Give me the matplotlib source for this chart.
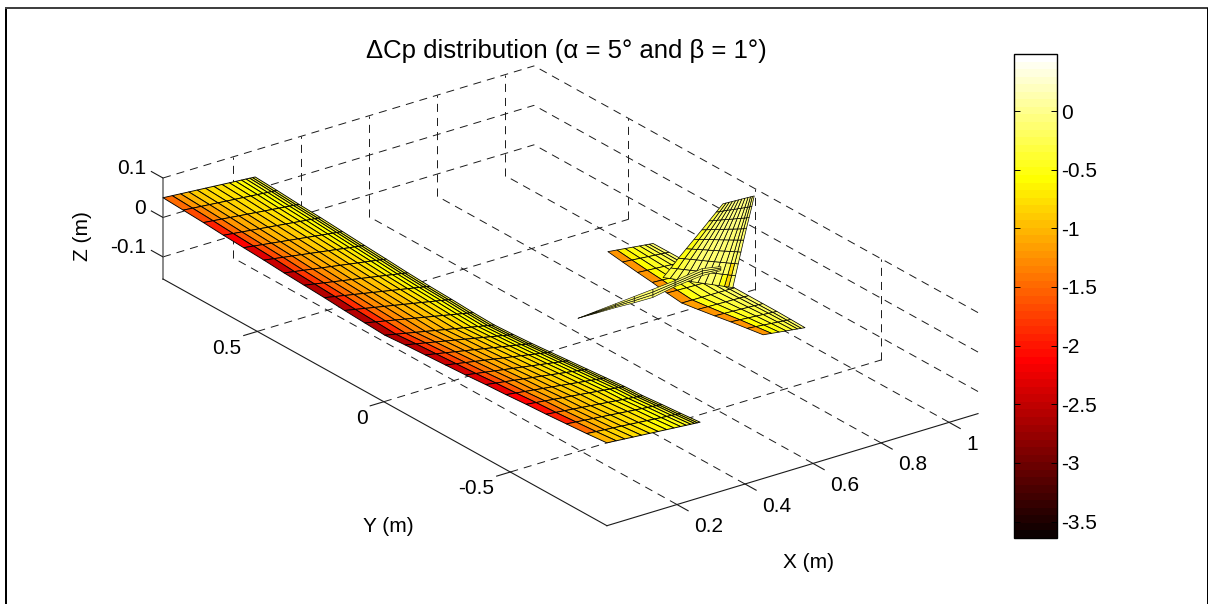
import numpy as np
import matplotlib
matplotlib.use('Agg')
import matplotlib.pyplot as plt
from matplotlib.cm import ScalarMappable
from matplotlib.colors import Normalize
from matplotlib.patches import Rectangle
from mpl_toolkits.mplot3d import proj3d

plt.rcParams['font.family'] = ['Liberation Sans', 'DejaVu Sans']
plt.rcParams['axes.unicode_minus'] = False

# axis limits and ticks
xlim = (-0.006, 1.085)
ylim = (-0.882, 0.873)
zlim = (-0.156, 0.1)
xticks = [0.2, 0.4, 0.6, 0.8, 1]
yticks = [0.5, 0, -0.5]
zticks = [0.1, 0, -0.1]
xticklabels = ['0.2', '0.4', '0.6', '0.8', '1']
yticklabels = ['0.5', '0', '-0.5']
zticklabels = ['0.1', '0', '-0.1']
cticks = [0, -0.5, -1, -1.5, -2, -2.5, -3, -3.5]
cticklabels = ['0', '-0.5', '-1', '-1.5', '-2', '-2.5', '-3', '-3.5']
clim = (-3.64, 0.486)

# wing
wing_y = [0.873, 0.793, 0.713, 0.634, 0.554, 0.474, 0.394, 0.315, 0.235, 0.155, 0.075, -0.004,
          -0.084, -0.164, -0.244, -0.323, -0.403, -0.483, -0.563, -0.642, -0.722, -0.802, -0.882]
wing_x_le = -0.006
wing_x_te = [0.265, 0.270, 0.275, 0.280, 0.285, 0.290, 0.294, 0.299, 0.304, 0.309, 0.313, 0.316,
             0.313, 0.308, 0.303, 0.298, 0.293, 0.288, 0.283, 0.278, 0.275, 0.271, 0.268]
wing_z_le = [0.050, 0.047, 0.044, 0.040, 0.037, 0.034, 0.030, 0.027, 0.024, 0.020, 0.017, 0.014,
             0.018, 0.021, 0.024, 0.027, 0.031, 0.034, 0.038, 0.041, 0.045, 0.049, 0.054]
wing_z_te = [0.032, 0.025, 0.017, 0.010, 0.002, -0.006, -0.013, -0.021, -0.028, -0.034, -0.040, -0.044,
             -0.039, -0.032, -0.024, -0.016, -0.008, 0.000, 0.008, 0.014, 0.021, 0.028, 0.035]
wing_chord = [0, 0.10, 0.19, 0.28, 0.37, 0.46, 0.55, 0.64, 0.72, 0.79, 0.85, 0.90, 0.94, 0.97, 1]
wing_cp = [
    [-1.45, -1.65, -1.95, -2.1, -2.3, -2.45, -2.5, -2.55, -2.6, -2.6, -2.6, -2.55, -2.5, -2.45, -2.4, -2.3, -2.25, -2.15, -2.05, -1.9, -1.45, -1.0],
    [-1.2, -1.35, -1.5, -1.6, -1.7, -1.75, -1.8, -1.8, -1.85, -1.85, -1.85, -1.8, -1.8, -1.75, -1.7, -1.65, -1.6, -1.55, -1.45, -1.35, -1.15, -0.9],
    [-1.0, -1.15, -1.25, -1.3, -1.4, -1.45, -1.5, -1.5, -1.5, -1.5, -1.5, -1.5, -1.45, -1.45, -1.4, -1.35, -1.3, -1.25, -1.2, -1.1, -1.0, -0.85],
    [-0.9, -1.0, -1.1, -1.15, -1.2, -1.25, -1.3, -1.3, -1.3, -1.3, -1.3, -1.3, -1.25, -1.25, -1.2, -1.2, -1.15, -1.1, -1.05, -1.0, -0.9, -0.8],
    [-0.85, -0.9, -1.0, -1.05, -1.1, -1.1, -1.15, -1.15, -1.15, -1.15, -1.15, -1.15, -1.15, -1.1, -1.1, -1.05, -1.05, -1.0, -0.95, -0.9, -0.85, -0.75],
    [-0.8, -0.85, -0.9, -0.95, -1.0, -1.0, -1.05, -1.05, -1.05, -1.05, -1.05, -1.05, -1.05, -1.0, -1.0, -0.95, -0.95, -0.9, -0.9, -0.85, -0.8, -0.7],
    [-0.75, -0.8, -0.85, -0.9, -0.9, -0.95, -0.95, -0.95, -0.95, -0.95, -0.95, -0.95, -0.95, -0.9, -0.9, -0.9, -0.85, -0.85, -0.8, -0.8, -0.75, -0.65],
    [-0.7, -0.75, -0.8, -0.8, -0.85, -0.85, -0.85, -0.85, -0.85, -0.85, -0.85, -0.85, -0.85, -0.85, -0.8, -0.8, -0.8, -0.75, -0.75, -0.7, -0.7, -0.6],
    [-0.65, -0.7, -0.7, -0.75, -0.75, -0.75, -0.75, -0.75, -0.75, -0.75, -0.75, -0.75, -0.75, -0.75, -0.75, -0.7, -0.7, -0.7, -0.7, -0.65, -0.6, -0.55],
    [-0.55, -0.6, -0.65, -0.65, -0.65, -0.7, -0.65, -0.65, -0.65, -0.65, -0.65, -0.65, -0.65, -0.65, -0.65, -0.65, -0.65, -0.6, -0.6, -0.6, -0.55, -0.5],
    [-0.5, -0.55, -0.55, -0.6, -0.6, -0.6, -0.6, -0.58, -0.58, -0.58, -0.58, -0.58, -0.58, -0.58, -0.58, -0.58, -0.55, -0.55, -0.55, -0.55, -0.5, -0.45],
    [-0.45, -0.5, -0.5, -0.5, -0.55, -0.5, -0.5, -0.5, -0.5, -0.5, -0.5, -0.5, -0.5, -0.5, -0.5, -0.5, -0.5, -0.5, -0.5, -0.5, -0.45, -0.45],
    [-0.4, -0.4, -0.4, -0.4, -0.4, -0.4, -0.4, -0.4, -0.4, -0.4, -0.4, -0.4, -0.4, -0.4, -0.4, -0.4, -0.4, -0.4, -0.4, -0.4, -0.4, -0.4],
    [-0.3, -0.3, -0.3, -0.3, -0.3, -0.3, -0.3, -0.3, -0.3, -0.3, -0.3, -0.3, -0.3, -0.3, -0.3, -0.3, -0.3, -0.3, -0.3, -0.3, -0.3, -0.3],
]

# horizontal tail
stab_y = [0.307, 0.246, 0.184, 0.123, 0.061, 0, -0.061, -0.123, -0.184, -0.246, -0.307]
stab_x_le = [0.881, 0.879, 0.877, 0.875, 0.872, 0.870, 0.872, 0.875, 0.877, 0.879, 0.881]
stab_x_te = [1.014, 1.016, 1.019, 1.021, 1.023, 1.025, 1.021, 1.017, 1.013, 1.008, 1.004]
stab_z_le = [-0.116, -0.120, -0.124, -0.127, -0.131, -0.134, -0.129, -0.124, -0.118, -0.113, -0.108]
stab_z_te = [-0.130, -0.131, -0.133, -0.134, -0.135, -0.136, -0.133, -0.130, -0.127, -0.124, -0.122]
stab_chord = [0, 0.20, 0.38, 0.55, 0.70, 0.82, 0.91, 1]
stab_cp = [
    [-1.25, -1.25, -1.2, -1.2, -1.2, -1.15, -1.2, -1.2, -1.2, -1.2],
    [-0.65, -0.6, -0.55, -0.5, -0.5, -0.5, -0.5, -0.5, -0.55, -0.6],
    [-0.5, -0.45, -0.45, -0.4, -0.4, -0.4, -0.4, -0.45, -0.45, -0.5],
    [-0.45, -0.4, -0.35, -0.35, -0.35, -0.35, -0.35, -0.35, -0.4, -0.4],
    [-0.35, -0.3, -0.3, -0.25, -0.25, -0.25, -0.25, -0.3, -0.3, -0.3],
    [-0.25, -0.2, -0.2, -0.2, -0.2, -0.2, -0.2, -0.2, -0.25, -0.25],
    [-0.15, -0.15, -0.15, -0.15, -0.15, -0.15, -0.15, -0.15, -0.15, -0.15],
]

# fin, bottom row to top row
fin_x_front = [0.815, 0.838, 0.860, 0.883, 0.906, 0.929, 0.950, 0.971, 0.991]
fin_x_rear = [1.020, 1.028, 1.036, 1.044, 1.052, 1.060, 1.068, 1.076, 1.083]
fin_z_front = [-0.055, -0.037, -0.018, 0.000, 0.018, 0.036, 0.053, 0.070, 0.086]
fin_z_rear = [-0.134, -0.106, -0.078, -0.050, -0.022, 0.005, 0.031, 0.057, 0.082]
fin_chord = [0, 0.10, 0.20, 0.30, 0.40, 0.50, 0.60, 0.70, 0.80, 0.88, 0.94, 1]
fin_cp = [
    [-0.3, -0.25, -0.2, -0.2, -0.15, -0.15, -0.15, -0.2, -0.5, -0.85, -0.2],
    [-0.45, -0.3, -0.2, -0.15, -0.1, -0.1, -0.1, -0.15, -0.2, -0.8, -0.15],
    [-0.5, -0.35, -0.2, -0.1, -0.1, -0.1, -0.1, -0.1, -0.15, -0.2, -0.15],
    [-0.5, -0.3, -0.15, -0.1, -0.1, -0.05, -0.1, -0.1, -0.1, -0.15, -0.1],
    [-0.45, -0.25, -0.15, -0.1, -0.05, -0.05, -0.05, -0.1, -0.1, -0.1, -0.1],
    [-0.35, -0.2, -0.1, -0.1, -0.05, -0.05, -0.05, -0.05, -0.1, -0.1, -0.1],
    [-0.3, -0.15, -0.1, -0.05, -0.05, -0.05, -0.05, -0.05, -0.05, -0.1, -0.1],
    [-0.25, -0.15, -0.1, -0.05, -0.05, -0.05, -0.05, -0.05, -0.05, -0.05, -0.1],
]

# sliver pointing forward from the fin
spike_x = [0.565, 0.62, 0.675, 0.73, 0.785, 0.85, 0.93, 0.985]
spike_z = [
    [-0.0932, -0.0891, -0.0851, -0.0810, -0.0770, -0.0721, -0.0623, -0.0716],
    [-0.0932, -0.0909, -0.0884, -0.0863, -0.0839, -0.0771, -0.0682, -0.0750],
    [-0.0932, -0.0926, -0.0916, -0.0917, -0.0908, -0.0821, -0.0741, -0.0784],
    [-0.0932, -0.0944, -0.0949, -0.0970, -0.0977, -0.0871, -0.0800, -0.0818],
]
spike_cp = [
    [-0.25, -0.2, -0.15, -0.1, -0.1, -0.1, -0.1],
    [-0.25, -0.2, -0.15, -0.1, -0.1, -0.1, -0.1],
    [-0.25, -0.2, -0.15, -0.1, -0.1, -0.1, -0.1],
]

W, H = 1208, 604
fig = plt.figure(figsize=(W/100, H/100), dpi=100, facecolor='white')

# picture frame
fig.add_artist(Rectangle((5/W, 0), 2/W, (H-8)/H, transform=fig.transFigure, fc='k', ec='none'))
fig.add_artist(Rectangle((5/W, (H-9)/H), (W-5)/W, 2/H, transform=fig.transFigure, fc='#404040', ec='none'))
fig.add_artist(Rectangle(((W-1.5)/W, 0), 1.5/W, (H-8)/H, transform=fig.transFigure, fc='k', ec='none'))

ax = fig.add_axes([0, 0, 1000/W, 1000/H], projection='3d', proj_type='ortho', computed_zorder=False)
ax.set_box_aspect((461, 748, 110.7))
ax.view_init(elev=24.19, azim=-126.4)
ax.set_axis_off()

cmap = plt.get_cmap('hot', 64)
norm = Normalize(*clim)


def surface(X, Y, Z, cp, zorder, lw=0.65):
    ax.plot_surface(X, Y, Z, facecolors=cmap(norm(np.array(cp))), rstride=1, cstride=1, shade=False,
                    edgecolor='k', linewidth=lw, zorder=zorder)


# wing
frac = np.array(wing_chord)
wing_X = wing_x_le + np.outer(frac, np.array(wing_x_te) - wing_x_le)
wing_Y = np.tile(np.array(wing_y), (len(frac), 1))
wing_Z = np.array(wing_z_le) + np.outer(frac, np.array(wing_z_te) - np.array(wing_z_le))
surface(wing_X, wing_Y, wing_Z, wing_cp, 3)

# tail plane
frac = np.array(stab_chord)
stab_X = np.array(stab_x_le) + np.outer(frac, np.array(stab_x_te) - np.array(stab_x_le))
stab_Y = np.tile(np.array(stab_y), (len(frac), 1))
stab_Z = np.array(stab_z_le) + np.outer(frac, np.array(stab_z_te) - np.array(stab_z_le))
surface(stab_X, stab_Y, stab_Z, stab_cp, 3, lw=0.55)

# fin
frac = np.array(fin_chord)
fin_X = np.outer(np.array(fin_x_front), 1 - frac) + np.outer(np.array(fin_x_rear), frac)
fin_Z = np.outer(np.array(fin_z_front), 1 - frac) + np.outer(np.array(fin_z_rear), frac)
surface(fin_X, np.zeros_like(fin_X), fin_Z, fin_cp, 4, lw=0.5)

# sliver
spike_X = np.tile(np.array(spike_x), (len(spike_z), 1))
surface(spike_X, np.zeros_like(spike_X), np.array(spike_z), spike_cp, 5, lw=0.4)

# dashed grid on the floor and the two back walls
grid = dict(color='#1a1a1a', linewidth=0.7, linestyle=(0, (8.3, 6.2)), zorder=1)
for x in xticks:
    ax.plot([x, x], ylim, [zlim[0], zlim[0]], **grid)
    ax.plot([x, x], [ylim[1], ylim[1]], zlim, **grid)
for y in yticks:
    ax.plot(xlim, [y, y], [zlim[0], zlim[0]], **grid)
    ax.plot([xlim[1], xlim[1]], [y, y], zlim, **grid)
for z in zticks:
    ax.plot(xlim, [ylim[1], ylim[1]], [z, z], **grid)
    ax.plot([xlim[1], xlim[1]], ylim, [z, z], **grid)

# axis lines and ticks
line = dict(color='#1a1a1a', linewidth=0.8, zorder=2)
ax.plot([xlim[0], xlim[0]], [ylim[1], ylim[1]], zlim, color='#808080', linewidth=1.3, zorder=2)
ax.plot([xlim[0], xlim[0]], ylim, [zlim[0], zlim[0]], **line)
ax.plot(xlim, [ylim[0], ylim[0]], [zlim[0], zlim[0]], **line)
for x in xticks:
    ax.plot([x, x], [ylim[0], ylim[0] - 0.044], [zlim[0], zlim[0]], **line)
for y in yticks:
    ax.plot([xlim[0], xlim[0] - 0.04], [y, y], [zlim[0], zlim[0]], **line)
for z in zticks:
    ax.plot([xlim[0], xlim[0]], [ylim[1], ylim[1] + 0.046], [z, z], **line)

ax.set_xlim(*xlim, view_margin=0)
ax.set_ylim(*ylim, view_margin=0)
ax.set_zlim(*zlim, view_margin=0)


def to_display(x, y, z):
    px, py, _ = proj3d.proj_transform(np.atleast_1d(x), np.atleast_1d(y), np.atleast_1d(z), ax.get_proj())
    return ax.transData.transform(np.c_[px, py])


# scale and shift the square axes so the box corners land where they should
ax.apply_aspect()
d = to_display([xlim[0], xlim[1]], [ylim[1], ylim[0]], [zlim[1], zlim[0]])
k = (978 - 163) / (d[1, 0] - d[0, 0])
ax.set_position([(163 - k*d[0, 0])/W, (H - 178 - k*d[0, 1])/H, 1000*k/W, 1000*k/H])
ax.apply_aspect()


def tick_label(x, y, z, s, ha):
    p = to_display(x, y, z)[0]
    fig.text(p[0]/W, p[1]/H, s, fontsize=15, ha=ha, va='center')


for x, s in zip(xticks, xticklabels):
    tick_label(x, ylim[0] - 0.067, zlim[0] - 0.032, s, 'left')
for y, s in zip(yticks, yticklabels):
    tick_label(xlim[0] - 0.047, y, zlim[0] - 0.03, s, 'right')
for z, s in zip(zticks, zticklabels):
    tick_label(xlim[0], ylim[1] + 0.067, z, s, 'right')

# text outside the axes
fig.text(566/W, 1 - 51/H, '\u0394Cp distribution (\u03b1 = 5\u00b0 and \u03b2 = 1\u00b0)', fontsize=18.5,
         ha='center', va='center')
fig.text(388/W, 1 - 527/H, 'Y (m)', fontsize=15, ha='center', va='center')
fig.text(809/W, 1 - 562/H, 'X (m)', fontsize=15, ha='center', va='center')
fig.text(83/W, 1 - 236/H, 'Z (m)', fontsize=15, ha='center', va='center', rotation=90)

# colorbar
cax = fig.add_axes([1014/W, 1 - 538/H, 43/W, 484/H])
cb = fig.colorbar(ScalarMappable(norm=norm, cmap=cmap), cax=cax)
cb.set_ticks(cticks)
cb.set_ticklabels(cticklabels)
cax.tick_params(axis='y', direction='in', left=True, right=True, length=4, width=0.7, labelsize=15, pad=3)
cb.outline.set_linewidth(1.0)

fig.savefig('out.png', dpi=100)
